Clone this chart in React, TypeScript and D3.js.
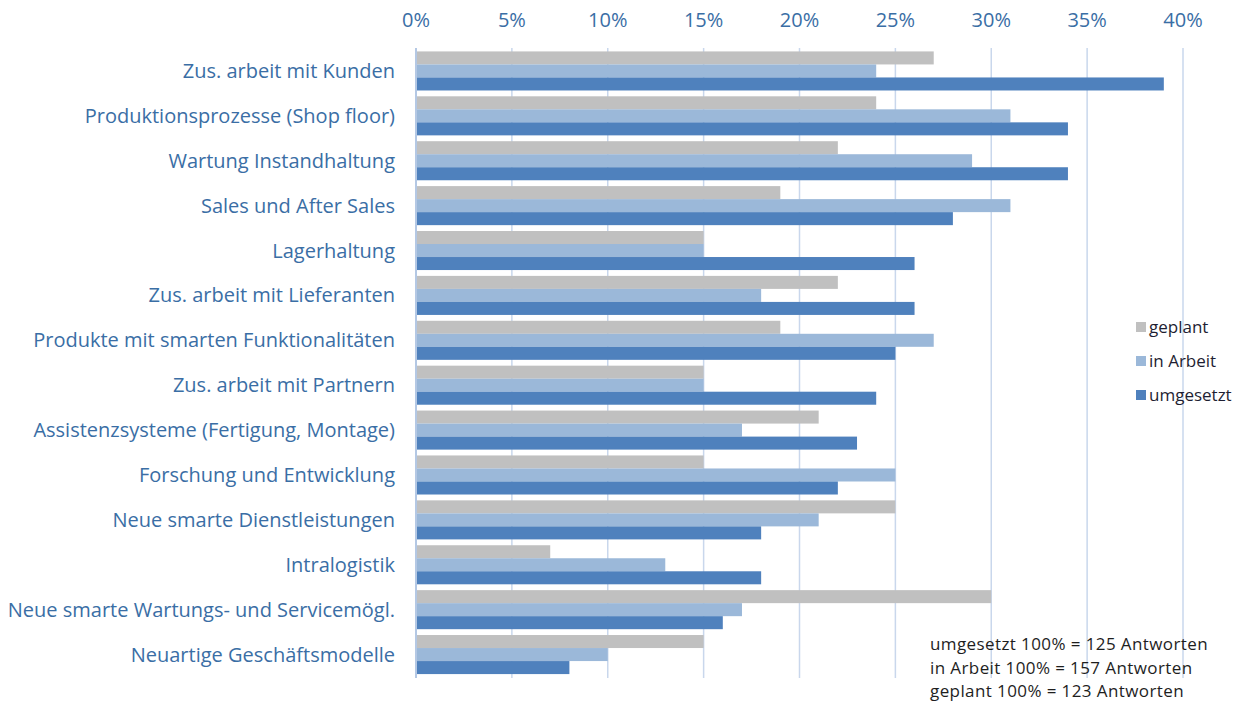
import React, { useEffect, useRef } from "react";
import * as d3 from "d3";

// categories, top to bottom
const categories = [
  "Zus. arbeit mit Kunden",
  "Produktionsprozesse (Shop floor)",
  "Wartung Instandhaltung",
  "Sales und After Sales",
  "Lagerhaltung",
  "Zus. arbeit mit Lieferanten",
  "Produkte mit smarten Funktionalitäten",
  "Zus. arbeit mit Partnern",
  "Assistenzsysteme (Fertigung, Montage)",
  "Forschung und Entwicklung",
  "Neue smarte Dienstleistungen",
  "Intralogistik",
  "Neue smarte Wartungs- und Servicemögl.",
  "Neuartige Geschäftsmodelle",
];

const geplant = [27, 24, 22, 19, 15, 22, 19, 15, 21, 15, 25, 7, 30, 15];
const inArbeit = [24, 31, 29, 31, 15, 18, 27, 15, 17, 25, 21, 13, 17, 10];
const umgesetzt = [39, 34, 34, 28, 26, 26, 25, 24, 23, 22, 18, 18, 16, 8];

const seriesNames = ["geplant", "in Arbeit", "umgesetzt"];
const seriesColors = ["#C0C0C0", "#9BB8D9", "#4F81BD"];
const tickValues = [0, 5, 10, 15, 20, 25, 30, 35, 40];

const notes = [
  "umgesetzt 100% = 125 Antworten",
  "in Arbeit 100% = 157 Antworten",
  "geplant 100% = 123 Antworten",
];

const W = 1239;
const H = 703;
const FONT = "'Open Sans', sans-serif";

const App = () => {
  const ref = useRef<SVGSVGElement>(null);

  useEffect(() => {
    const svg = d3.select(ref.current);
    svg.selectAll("*").remove();

    const x = d3.scaleLinear().domain([0, 40]).range([416, 1183]);
    const y = d3
      .scaleBand()
      .domain(categories)
      .range([48.5, 677])
      .paddingInner(0.13)
      .paddingOuter(0.065);
    const ySub = d3
      .scaleBand()
      .domain(seriesNames)
      .range([0, y.bandwidth()]);

    // gridlines
    svg
      .append("g")
      .selectAll("line")
      .data(tickValues.slice(1))
      .enter()
      .append("line")
      .attr("x1", (d) => x(d))
      .attr("x2", (d) => x(d))
      .attr("y1", 48)
      .attr("y2", 678)
      .attr("stroke", "#C9D7EC")
      .attr("stroke-width", 1.5);

    // tick labels on top
    svg
      .append("g")
      .selectAll("text")
      .data(tickValues)
      .enter()
      .append("text")
      .attr("x", (d) => x(d))
      .attr("y", 20)
      .attr("dy", "0.35em")
      .attr("text-anchor", "middle")
      .style("font-family", FONT)
      .style("font-size", "20px")
      .attr("fill", "#3A6EA5")
      .text((d) => `${d}%`);

    // bars
    const series = [geplant, inArbeit, umgesetzt];
    const groups = svg
      .append("g")
      .selectAll("g")
      .data(categories)
      .enter()
      .append("g")
      .attr("transform", (d) => `translate(0,${y(d)})`);

    groups
      .selectAll("rect")
      .data((_, i) => series.map((s, k) => ({ k, v: s[i] })))
      .enter()
      .append("rect")
      .attr("x", x(0))
      .attr("y", (d) => ySub(seriesNames[d.k])!)
      .attr("width", (d) => x(d.v) - x(0))
      .attr("height", ySub.bandwidth())
      .attr("fill", (d) => seriesColors[d.k]);

    // category labels
    svg
      .append("g")
      .selectAll("text")
      .data(categories)
      .enter()
      .append("text")
      .attr("x", 395)
      .attr("y", (d) => y(d)! + y.bandwidth() / 2)
      .attr("dy", "0.35em")
      .attr("text-anchor", "end")
      .style("font-family", FONT)
      .style("font-size", "20px")
      .attr("fill", "#3A6EA5")
      .text((d) => d);

    // axis line
    svg
      .append("line")
      .attr("x1", x(0))
      .attr("x2", x(0))
      .attr("y1", 48)
      .attr("y2", 678)
      .attr("stroke", "#B4C8E4")
      .attr("stroke-width", 2);

    // legend
    const legend = svg
      .append("g")
      .selectAll("g")
      .data(seriesNames)
      .enter()
      .append("g")
      .attr("transform", (_, i) => `translate(1136,${327 + i * 34})`);
    legend
      .append("rect")
      .attr("x", 0)
      .attr("y", -5)
      .attr("width", 10)
      .attr("height", 10)
      .attr("fill", (_, i) => seriesColors[i]);
    legend
      .append("text")
      .attr("x", 13)
      .attr("dy", "0.35em")
      .style("font-family", FONT)
      .style("font-size", "17px")
      .attr("fill", "#1E1E32")
      .text((d) => d);

    // notes
    svg
      .append("g")
      .selectAll("text")
      .data(notes)
      .enter()
      .append("text")
      .attr("x", 930)
      .attr("y", (_, i) => 644.5 + i * 23.3)
      .attr("dy", "0.35em")
      .style("font-family", FONT)
      .style("font-size", "17px")
      .style("letter-spacing", "0.4px")
      .attr("fill", "#1E1E1E")
      .text((d) => d);
  }, []);

  return (
    <svg
      ref={ref}
      width={W}
      height={H}
      style={{ position: "absolute", left: 0, top: 0, background: "#fff" }}
    ></svg>
  );
};

export default App;
